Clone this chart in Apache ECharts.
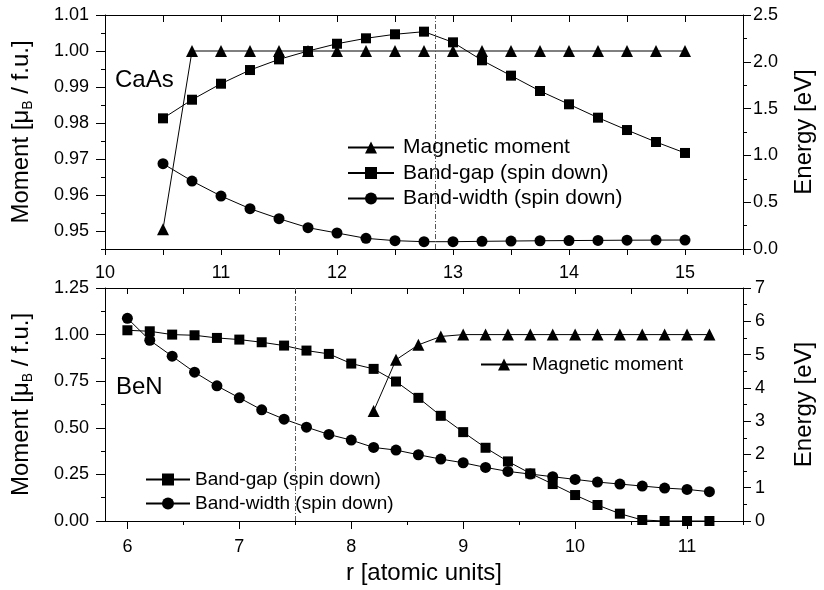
<!DOCTYPE html>
<html><head><meta charset="utf-8">
<script src="https://cdn.jsdelivr.net/npm/echarts@6/dist/echarts.min.js"></script>
<style>html,body{margin:0;padding:0;background:#fff}#chart{width:824px;height:590px}</style>
</head><body><div id="chart"></div>
<script>
// ---------- CaAs (top panel) ----------
const caasR = [10.5,10.75,11,11.25,11.5,11.75,12,12.25,12.5,12.75,13,13.25,13.5,13.75,14,14.25,14.5,14.75,15];
const caasMoment = [0.9505,1.0,1.0,1.0,1.0,1.0,1.0,1.0,1.0,1.0,1.0,1.0,1.0,1.0,1.0,1.0,1.0,1.0,1.0];
const caasGap = [1.396,1.595,1.766,1.912,2.026,2.115,2.193,2.251,2.294,2.322,2.208,2.016,1.852,1.688,1.546,1.403,1.271,1.143,1.026];
const caasWidth = [0.911,0.726,0.566,0.431,0.324,0.228,0.171,0.114,0.089,0.078,0.078,0.082,0.085,0.088,0.090,0.092,0.094,0.095,0.096];
const caasDivider = 12.85;
const caasRTicks = [10,10.5,11,11.5,12,12.5,13,13.5,14,14.5,15,15.5];
const caasRLabels = [10,11,12,13,14,15];
const caasMomentTicks = [0.95,0.96,0.97,0.98,0.99,1.00,1.01];
const caasMomentMinor = [0.945,0.955,0.965,0.975,0.985,0.995,1.005];

// ---------- BeN (bottom panel) ----------
const benR = [6.0,6.2,6.4,6.6,6.8,7.0,7.2,7.4,7.6,7.8,8.0,8.2,8.4,8.6,8.8,9.0,9.2,9.4,9.6,9.8,10.0,10.2,10.4,10.6,10.8,11.0,11.2];
const benGap = [5.73,5.70,5.60,5.58,5.50,5.45,5.37,5.27,5.12,5.02,4.73,4.57,4.19,3.70,3.16,2.67,2.20,1.79,1.43,1.11,0.78,0.48,0.22,0.03,0.0,0.0,0.0];
const benWidth = [6.09,5.43,4.95,4.47,4.06,3.70,3.34,3.06,2.82,2.60,2.43,2.21,2.13,1.99,1.86,1.75,1.61,1.49,1.41,1.33,1.25,1.17,1.11,1.05,0.99,0.95,0.88];
const benMomentR = [8.2,8.4,8.6,8.8,9.0,9.2,9.4,9.6,9.8,10.0,10.2,10.4,10.6,10.8,11.0,11.2];
const benMoment = [0.59,0.865,0.945,0.99,1.0,1.0,1.0,1.0,1.0,1.0,1.0,1.0,1.0,1.0,1.0,1.0];
const benDivider = 7.5;
const benRLabels = [6,7,8,9,10,11];
const benRMinor = [6.5,7.5,8.5,9.5,10.5,11.5];
const benRTop = [6,6.5,7,7.5,8,8.5,9,9.5,10,10.5,11,11.5];

const NAMES = ['Magnetic moment','Band-gap (spin down)','Band-width (spin down)'];
const FONT = 'Liberation Sans, Arial, sans-serif';
const BLACK = '#000';

function pairs(xs, ys){ return xs.map((x,i)=>[x, ys[i]]); }

const lineAx = {show:true, onZero:false, lineStyle:{color:BLACK, width:1}};
const noSplit = {show:false};
const lbl = (extra) => Object.assign({color:BLACK, fontSize:18, fontFamily:FONT}, extra);

function series(name, xi, yi, data, symbol, size) {
  return {
    name, type:'line', xAxisIndex:xi, yAxisIndex:yi, data,
    symbol, symbolSize:size, showSymbol:true,
    lineStyle:{color:BLACK, width:1}, itemStyle:{color:BLACK},
    emphasis:{disabled:true}, animation:false
  };
}
function divider(x) {
  return {silent:true, symbol:['none','none'], label:{show:false},
    lineStyle:{color:'#555', width:1, type:[5,2,1,2]}, data:[{xAxis:x}]};
}

const nameStyle = {
  fontSize:24, fontFamily:FONT, color:BLACK,
  rich:{
    n:{fontSize:24, fontFamily:FONT, color:BLACK, lineHeight:28},
    s:{fontSize:14, fontFamily:FONT, color:BLACK, lineHeight:14, verticalAlign:'bottom'}
  }
};

const option = {
  animation:false,
  backgroundColor:'#fff',
  grid:[
    {left:105, width:647, top:15, height:234},
    {left:105, width:647, top:288, height:233}
  ],
  xAxis:[
    {gridIndex:0, type:'value', position:'bottom', min:10, max:15.5,
      axisLine:lineAx, splitLine:noSplit,
      axisTick:{show:true, inside:false, length:6, customValues:caasRTicks, lineStyle:{color:BLACK}},
      axisLabel:lbl({margin:15, customValues:caasRLabels})},
    {gridIndex:0, type:'value', position:'top', min:10, max:15.5,
      axisLine:lineAx, splitLine:noSplit,
      axisTick:{show:true, inside:true, length:7, customValues:caasRTicks, lineStyle:{color:BLACK}},
      axisLabel:{show:false}},
    {gridIndex:1, type:'value', position:'bottom', min:5.8, max:11.5,
      axisLine:lineAx, splitLine:noSplit,
      axisTick:{show:true, inside:false, length:8, customValues:benRLabels, lineStyle:{color:BLACK}},
      axisLabel:lbl({margin:17, customValues:benRLabels}),
      name:'r [atomic units]', nameLocation:'middle', nameGap:40,
      nameTextStyle:{fontSize:24, fontFamily:FONT, color:BLACK}},
    {gridIndex:1, type:'value', position:'bottom', min:5.8, max:11.5,
      axisLine:{show:false}, splitLine:noSplit,
      axisTick:{show:true, inside:false, length:4, customValues:benRMinor, lineStyle:{color:BLACK}},
      axisLabel:{show:false}},
    {gridIndex:1, type:'value', position:'top', min:5.8, max:11.5,
      axisLine:lineAx, splitLine:noSplit,
      axisTick:{show:true, inside:true, length:6, customValues:benRTop, lineStyle:{color:BLACK}},
      axisLabel:{show:false}}
  ],
  yAxis:[
    {gridIndex:0, type:'value', position:'left', min:0.945, max:1.01,
      axisLine:lineAx, splitLine:noSplit,
      axisTick:{show:true, inside:false, length:9, customValues:caasMomentTicks, lineStyle:{color:BLACK}},
      axisLabel:lbl({margin:16, customValues:caasMomentTicks, formatter:v=>Number(v).toFixed(2)}),
      name:'{n|Moment [μ}{s|B}{n| / f.u.]}', nameLocation:'middle', nameRotate:90, nameGap:70,
      nameTextStyle:nameStyle},
    {gridIndex:0, type:'value', position:'left', min:0.945, max:1.01,
      axisLine:{show:false}, splitLine:noSplit,
      axisTick:{show:true, inside:false, length:4, customValues:caasMomentMinor, lineStyle:{color:BLACK}},
      axisLabel:{show:false}},
    {gridIndex:0, type:'value', position:'right', min:0, max:2.5, interval:0.5,
      axisLine:lineAx, splitLine:noSplit,
      axisTick:{show:true, inside:false, length:8, lineStyle:{color:BLACK}},
      minorTick:{show:true, splitNumber:2, length:4, lineStyle:{color:BLACK}},
      axisLabel:lbl({margin:10, formatter:v=>Number(v).toFixed(1)}),
      name:'Energy [eV]', nameLocation:'middle', nameRotate:90, nameGap:49,
      nameTextStyle:{fontSize:24, fontFamily:FONT, color:BLACK}},
    {gridIndex:1, type:'value', position:'left', min:0, max:1.25, interval:0.25,
      axisLine:lineAx, splitLine:noSplit,
      axisTick:{show:true, inside:false, length:9, lineStyle:{color:BLACK}},
      minorTick:{show:true, splitNumber:2, length:4, lineStyle:{color:BLACK}},
      axisLabel:lbl({margin:16, formatter:v=>Number(v).toFixed(2)}),
      name:'{n|Moment [μ}{s|B}{n| / f.u.]}', nameLocation:'middle', nameRotate:90, nameGap:70,
      nameTextStyle:nameStyle},
    {gridIndex:1, type:'value', position:'right', min:0, max:7, interval:1,
      axisLine:lineAx, splitLine:noSplit,
      axisTick:{show:true, inside:false, length:8, lineStyle:{color:BLACK}},
      minorTick:{show:true, splitNumber:2, length:4, lineStyle:{color:BLACK}},
      axisLabel:lbl({margin:12}),
      name:'Energy [eV]', nameLocation:'middle', nameRotate:90, nameGap:49,
      nameTextStyle:{fontSize:24, fontFamily:FONT, color:BLACK}}
  ],
  legend:[
    {orient:'vertical', left:347, top:137, padding:0, itemWidth:46, itemHeight:15, itemGap:4.5,
      data:NAMES, selectedMode:false,
      textStyle:{fontSize:21, fontFamily:FONT, color:BLACK, padding:[0,0,0,4]}},
    {orient:'vertical', left:480, top:355, padding:0, itemWidth:46, itemHeight:15,
      data:[NAMES[0]], selectedMode:false,
      textStyle:{fontSize:19, fontFamily:FONT, color:BLACK}},
    {orient:'vertical', left:145, top:470, padding:0, itemWidth:44, itemHeight:15, itemGap:5,
      data:[NAMES[1], NAMES[2]], selectedMode:false,
      textStyle:{fontSize:19, fontFamily:FONT, color:BLACK}}
  ],
  graphic:[
    {type:'text', x:115, y:80, style:{text:'CaAs', fontSize:24, fontFamily:FONT, fill:BLACK, verticalAlign:'middle'}},
    {type:'text', x:116, y:387, style:{text:'BeN', fontSize:24, fontFamily:FONT, fill:BLACK, verticalAlign:'middle'}}
  ],
  series:[
    Object.assign(series(NAMES[0], 0, 0, pairs(caasR, caasMoment), 'triangle', 12), {markLine:divider(caasDivider)}),
    series(NAMES[1], 0, 2, pairs(caasR, caasGap), 'rect', 10),
    series(NAMES[2], 0, 2, pairs(caasR, caasWidth), 'circle', 11),
    Object.assign(series(NAMES[0], 2, 3, pairs(benMomentR, benMoment), 'triangle', 12), {markLine:divider(benDivider)}),
    series(NAMES[1], 2, 4, pairs(benR, benGap), 'rect', 10),
    series(NAMES[2], 2, 4, pairs(benR, benWidth), 'circle', 11)
  ]
};

const chart = echarts.init(document.getElementById('chart'), null, {renderer:'canvas'});
chart.setOption(option);
</script>
</body></html>
